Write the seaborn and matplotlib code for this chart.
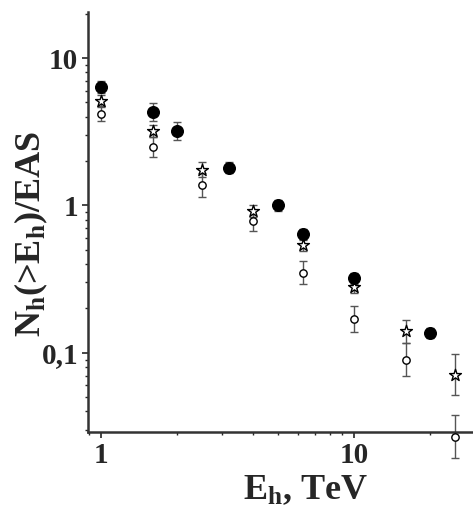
import numpy as np
import pandas as pd
import matplotlib.pyplot as plt
import seaborn as sns

# values
e_filled = [1, 1.6, 2, 3.2, 5, 6.3, 10, 20]
n_filled = [6.4, 4.3, 3.2, 1.8, 1.0, 0.64, 0.32, 0.136]
rel_filled = [0.10, 0.15, 0.15, 0.09, 0.09, 0.09, 0.09, 0.08]

e_star = [1, 1.6, 2.5, 4, 6.3, 10, 16, 25]
n_star = [5.1, 3.2, 1.75, 0.92, 0.54, 0.28, 0.14, 0.071]
rel_star = [0.10, 0.10, 0.13, 0.10, 0.10, 0.10, 0.20, 0.38]

e_open = [1, 1.6, 2.5, 4, 6.3, 10, 16, 25]
n_open = [4.2, 2.5, 1.38, 0.79, 0.35, 0.17, 0.09, 0.027]
rel_open = [0.13, 0.17, 0.2, 0.17, 0.2, 0.22, 0.3, 0.4]

sns.set_style("ticks")
plt.rcParams['font.family'] = ['Liberation Serif', 'DejaVu Serif']
plt.rcParams['mathtext.fontset'] = 'custom'
plt.rcParams['mathtext.rm'] = 'Liberation Serif'
plt.rcParams['mathtext.bf'] = 'Liberation Serif:bold'
plt.rcParams['mathtext.it'] = 'Liberation Serif:italic'

fig = plt.figure(figsize=(4.73, 5.08), dpi=100)
ax = fig.add_axes([0.186, 0.1496, 0.814, 0.8264])


def draw(e, n, rel, marker, face, size):
    n = np.array(n)
    f = 1 + np.array(rel)
    yerr = [n - n / f, n * (f - 1)]
    ax.errorbar(e, n, yerr=yerr, fmt='none', ecolor='#555555', elinewidth=1.0,
                capsize=3, capthick=1.0, clip_on=False, zorder=2)
    df = pd.DataFrame({"E": e, "N": n})
    sns.scatterplot(data=df, x="E", y="N", marker=marker, s=size, color=face,
                    edgecolor='black', linewidth=1.0, ax=ax, zorder=3, clip_on=False)


draw(e_open, n_open, rel_open, 'o', 'white', 28)
draw(e_star, n_star, rel_star, '*', 'white', 80)
draw(e_filled, n_filled, rel_filled, 'o', 'black', 70)

ax.set_xscale('log')
ax.set_yscale('log')
ax.set_xlim(0.889, 29.5)
ax.set_ylim(0.029, 20.5)

ax.set_xticks([1, 10])
ax.set_xticklabels(['1', '10'])
ax.set_yticks([0.1, 1, 10])
ax.set_yticklabels(['0,1', '1', '10'])
ax.tick_params(axis='both', which='major', labelsize=21, length=4, width=1.2, pad=3)
ax.tick_params(axis='both', which='minor', length=2.5, width=1.0)
for lab in ax.get_xticklabels() + ax.get_yticklabels():
    lab.set_fontweight('bold')

sns.despine(ax=ax)
for s in ['left', 'bottom']:
    ax.spines[s].set_linewidth(1.8)
    ax.spines[s].set_color('#333333')

ax.set_xlabel(r'E$_\mathbf{h}$, TeV', fontsize=26, fontweight='bold')
ax.set_ylabel(r'N$_\mathbf{h}$(>E$_\mathbf{h}$)/EAS', fontsize=26, fontweight='bold')
ax.xaxis.set_label_coords(0.564, -0.138, transform=ax.transAxes)
ax.yaxis.set_label_coords(-0.148, 0.471, transform=ax.transAxes)
ax.xaxis.label.set_va('center')
ax.yaxis.label.set_va('center')

fig.savefig("out.png", dpi=100)
